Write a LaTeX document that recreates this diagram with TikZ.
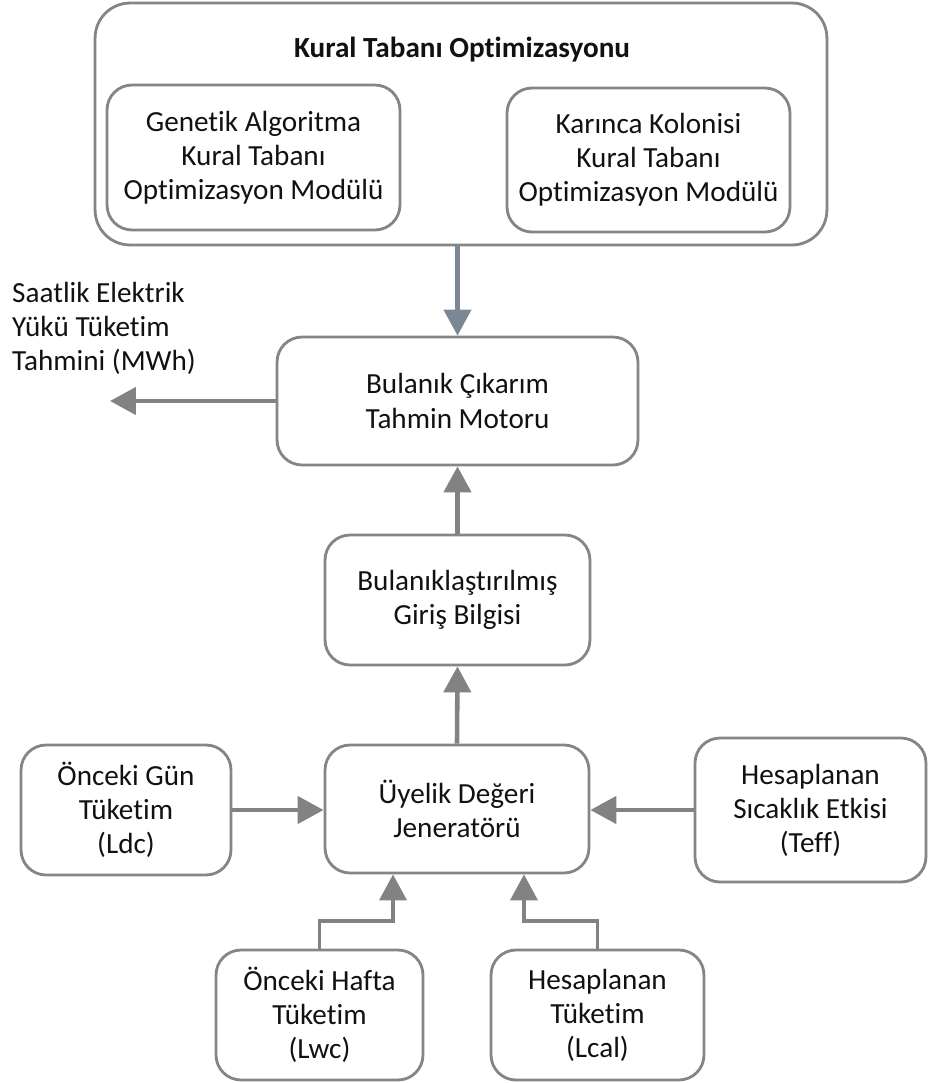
\documentclass[tikz,border=0pt]{standalone}
\usepackage{fontspec}
\setmainfont{Carlito}[Ligatures=NoCommon]
\usetikzlibrary{
  positioning,
  arrows.meta,
  calc,
}
\definecolor{border}{HTML}{858585}
\definecolor{textMain}{HTML}{111111}
\definecolor{arrowCol}{HTML}{828282}
\definecolor{arrowBlue}{HTML}{7C8796}
\tikzset{
  mainbox/.style={
    rectangle, rounded corners=0.5cm, draw=border, fill=white,
    align=center, text=textMain, line width=1.6pt,
    font=\fontsize{16.6}{19.4}\selectfont, inner sep=2pt,
  },
  framebox/.style={
    mainbox, rounded corners=0.7cm,
  },
  arrow/.style={-{Triangle[length=0.52cm, width=0.54cm]}, arrowCol, line width=2.6pt},
  elbow/.style={arrow, line width=2.2pt},
  label/.style={font=\fontsize{16.6}{19.4}\selectfont, text=textMain, align=left},
}

\begin{document}
\begin{tikzpicture}[x=0.02cm, y=-0.02cm]

  \useasboundingbox (0,0) rectangle (928,1083);

  % Optimisation frame
  \node[framebox, minimum width=14.64cm, minimum height=4.84cm] (opt) at (461, 124) {};
  \node[font=\fontsize{16.6}{19.4}\selectfont\bfseries, text=textMain] (opttitle) at (462, 50) {Kural Tabanı Optimizasyonu};
  \node[mainbox, minimum width=5.86cm, minimum height=2.9cm] (ga) at (253.5, 157.5) {Genetik Algoritma\\Kural Tabanı\\Optimizasyon Modülü};
  \node[mainbox, minimum width=5.66cm, minimum height=2.88cm] (aco) at (648.5, 160) {Karınca Kolonisi\\Kural Tabanı\\Optimizasyon Modülü};

  % Inference chain
  \node[mainbox, minimum width=7.22cm, minimum height=2.56cm] (motor) at (457.5, 401) {Bulanık Çıkarım\\Tahmin Motoru};
  \node[mainbox, minimum width=5.3cm, minimum height=2.6cm] (fuzzy) at (457.5, 600) {Bulanıklaştırılmış\\Giriş Bilgisi};
  \node[mainbox, minimum width=5.28cm, minimum height=2.56cm] (gen) at (457, 809) {Üyelik Değeri\\Jeneratörü};

  \draw[arrow, arrowBlue] (opt.south -| motor) -- (motor.north);
  \draw[arrow] (fuzzy.north) -- (motor.south);
  \draw[arrow] (gen.north) -- (fuzzy.south);

  % Output
  \coordinate (outend) at (110, 401);
  \node[label, anchor=north west] (outlbl) at (6, 276) {Saatlik Elektrik\\Yükü Tüketim\\Tahmini (MWh)};
  \draw[arrow] (motor.west) -- (outend);

  % Inputs
  \node[mainbox, minimum width=4.2cm, minimum height=2.6cm] (ldc) at (126, 810) {Önceki Gün\\Tüketim\\(Ldc)};
  \node[mainbox, minimum width=4.62cm, minimum height=2.88cm] (teff) at (810.5, 810) {Hesaplanan\\Sıcaklık Etkisi\\(Teff)};
  \node[mainbox, minimum width=4.14cm, minimum height=2.6cm] (lwc) at (319.5, 1015) {Önceki Hafta\\Tüketim\\(Lwc)};
  \node[mainbox, minimum width=4.26cm, minimum height=2.6cm] (lcal) at (597.5, 1015) {Hesaplanan\\Tüketim\\(Lcal)};

  \draw[arrow] (ldc.east) -- (ldc.east -| gen.west);
  \draw[arrow] (teff.west) -- (teff.west -| gen.east);
  \draw[elbow] (lwc.north) -- ++(0,-28) -| ([xshift=-1.28cm]gen.south);
  \draw[elbow] (lcal.north) -- ++(0,-28) -| ([xshift=1.34cm]gen.south);

\end{tikzpicture}
\end{document}
